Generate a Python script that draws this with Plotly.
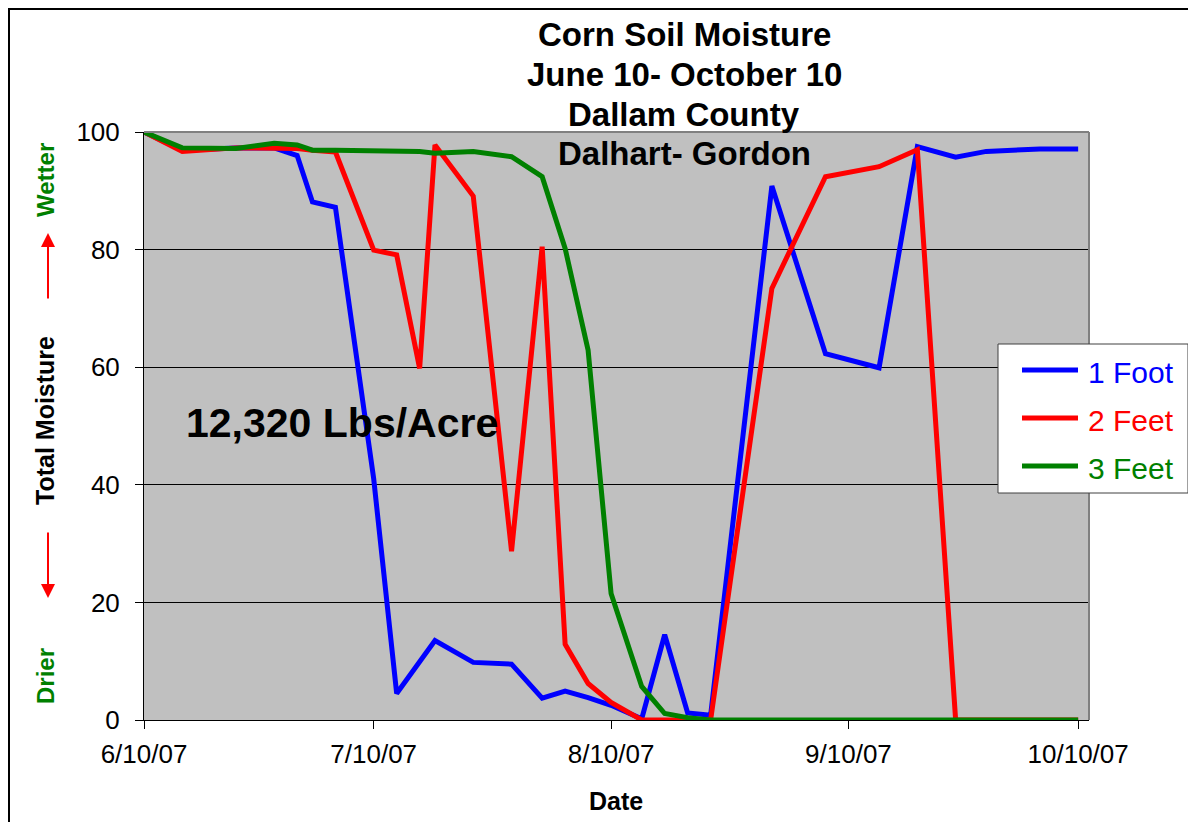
import plotly.graph_objects as go

# ---- data ----
dates = ["2007-06-10", "2007-06-15", "2007-06-22", "2007-06-27", "2007-06-30",
         "2007-07-02", "2007-07-05", "2007-07-10", "2007-07-13", "2007-07-16",
         "2007-07-18", "2007-07-23", "2007-07-28", "2007-08-01", "2007-08-04",
         "2007-08-07", "2007-08-10", "2007-08-14", "2007-08-17", "2007-08-20",
         "2007-08-23", "2007-08-31", "2007-09-07", "2007-09-14", "2007-09-19",
         "2007-09-24", "2007-09-28", "2007-10-05", "2007-10-10"]

one_foot = [100, 96.9, 97.3, 97.3, 96.0, 88.1, 87.2, 41.0, 4.5, 10.0,
            13.5, 9.8, 9.5, 3.7, 4.9, 3.8, 2.5, 0.2, 14.5, 1.2,
            0.8, 90.8, 62.3, 59.9, 97.5, 95.7, 96.7, 97.1, 97.1]

two_feet = [100, 96.7, 97.3, 97.3, 97.2, 96.9, 96.6, 79.9, 79.1, 59.8,
            97.8, 89.1, 28.7, 80.5, 12.9, 6.2, 3.0, 0, 0, 0,
            0, 73.4, 92.4, 94.1, 97.0, 0, 0, 0, 0]

three_feet = [100, 97.3, 97.2, 98.1, 97.8, 96.9, 96.9, 96.9, 96.9, 96.7,
              96.4, 96.7, 95.8, 92.4, 80.2, 62.9, 21.5, 5.7, 1.1, 0.4,
              0, 0, 0, 0, 0, 0, 0, 0, 0]

series_names = ["1 Foot", "2 Feet", "3 Feet"]
series_colors = ["#0000FF", "#FF0000", "#008000"]

x_tick_vals = ["2007-06-10", "2007-07-10", "2007-08-10", "2007-09-10", "2007-10-10"]
x_tick_text = ["6/10/07", "7/10/07", "8/10/07", "9/10/07", "10/10/07"]
y_tick_vals = [0, 20, 40, 60, 80, 100]

title_lines = ["Corn Soil Moisture", "June 10- October 10", "Dallam County", "Dalhart- Gordon"]

FONT = "Arial, 'Liberation Sans', sans-serif"

# ---- figure (page body has an 8px margin, so the figure is 8px smaller) ----
OFF = 8
W, H = 1196 - OFF, 822 - OFF
L, T = 144 - OFF, 132 - OFF
R = W - (1089 - OFF)
B = H - (720 - OFF)
pw, ph = W - L - R, H - T - B


def px(xw):
    return (xw - OFF - L) / pw


def py(yw):
    return (H - B - (yw - OFF)) / ph


fig = go.Figure()
for name, vals, col in zip(series_names, [one_foot, two_feet, three_feet], series_colors):
    fig.add_trace(go.Scatter(
        x=dates, y=vals, mode="lines", name=name,
        line=dict(color=col, width=5), showlegend=False,
    ))

annotations = []
title_y = [35, 74, 114, 153]
for txt, yy in zip(title_lines, title_y):
    annotations.append(dict(text=f"<b>{txt}</b>", x=px(684), y=py(yy), xref="paper", yref="paper",
                            showarrow=False, xanchor="center", yanchor="middle",
                            font=dict(family=FONT, size=33, color="black")))

annotations.append(dict(text="<b>12,320 Lbs/Acre</b>", x=px(342), y=py(423), xref="paper", yref="paper",
                        showarrow=False, xanchor="center", yanchor="middle",
                        font=dict(family=FONT, size=41, color="black")))

annotations.append(dict(text="<b>Date</b>", x=px(616), y=py(801), xref="paper", yref="paper",
                        showarrow=False, xanchor="center", yanchor="middle",
                        font=dict(family=FONT, size=25, color="black")))

# y-axis composite title
for txt, yy, col, sz in [("Wetter", 180, "#008000", 24), ("Total Moisture", 421, "black", 25),
                         ("Drier", 676, "#008000", 24)]:
    annotations.append(dict(text=f"<b>{txt}</b>", x=px(45), y=py(yy), xref="paper", yref="paper",
                            showarrow=False, xanchor="center", yanchor="middle", textangle=-90,
                            font=dict(family=FONT, size=sz, color=col)))

annotations.append(dict(text="", x=px(48), y=py(233), xref="paper", yref="paper",
                        showarrow=True, ax=0, ay=67, arrowhead=2, arrowsize=1.4, arrowwidth=2,
                        arrowcolor="#FF0000"))
annotations.append(dict(text="", x=px(48), y=py(598), xref="paper", yref="paper",
                        showarrow=True, ax=0, ay=-67, arrowhead=2, arrowsize=1.4, arrowwidth=2,
                        arrowcolor="#FF0000"))

shapes = [
    # plot-area top and right border (grey)
    dict(type="line", xref="paper", yref="paper", x0=0, x1=1, y0=1, y1=1,
         line=dict(color="#808080", width=2), layer="above"),
    dict(type="line", xref="paper", yref="paper", x0=1, x1=1, y0=0, y1=1,
         line=dict(color="#808080", width=2), layer="above"),
    # outer chart border (left and top visible)
    dict(type="rect", xref="paper", yref="paper", x0=px(9), x1=px(1260), y0=py(9), y1=py(900),
         line=dict(color="black", width=2), fillcolor="rgba(0,0,0,0)", layer="above"),
    # legend box
    dict(type="rect", xref="paper", yref="paper", x0=px(998), x1=px(1188), y0=py(344), y1=py(493),
         line=dict(color="#404040", width=1), fillcolor="white", layer="above"),
]

legend_rows_y = [370, 418, 466]
for name, col, yy in zip(series_names, series_colors, legend_rows_y):
    shapes.append(dict(type="line", xref="paper", yref="paper", x0=px(1022), x1=px(1078),
                       y0=py(yy), y1=py(yy), line=dict(color=col, width=5), layer="above"))
    annotations.append(dict(text=name, x=px(1086), y=py(yy + 2), xref="paper", yref="paper",
                            showarrow=False, xanchor="left", yanchor="middle",
                            font=dict(family=FONT, size=30, color=col)))

fig.update_layout(
    width=W, height=H,
    margin=dict(l=L, r=R, t=T, b=B, autoexpand=False),
    paper_bgcolor="white", plot_bgcolor="#C0C0C0",
    font=dict(family=FONT, color="black"),
    showlegend=False,
    annotations=annotations,
    shapes=shapes,
)

fig.update_xaxes(type="date", range=["2007-06-10", "2007-10-11 10:00"],
                 tickvals=x_tick_vals, ticktext=x_tick_text,
                 ticks="outside", ticklen=8, tickcolor="black", tickwidth=1,
                 showline=True, linecolor="black", linewidth=1, showgrid=False, zeroline=False,
                 tickfont=dict(family=FONT, size=26, color="black"), ticklabelstandoff=3)
fig.update_yaxes(range=[0, 100], tickvals=y_tick_vals,
                 ticks="outside", ticklen=8, tickcolor="black", tickwidth=1,
                 showline=True, linecolor="black", linewidth=1,
                 showgrid=True, gridcolor="black", gridwidth=1, zeroline=False,
                 tickfont=dict(family=FONT, size=26, color="black"), ticklabelstandoff=10)

fig.write_html("out.html")
